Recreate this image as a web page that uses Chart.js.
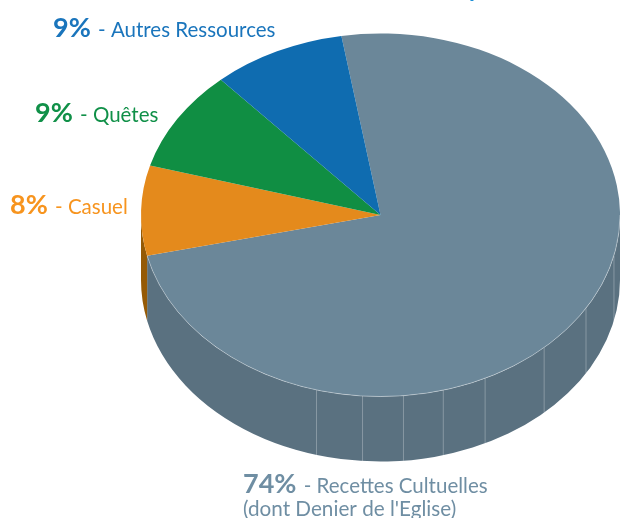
<!DOCTYPE html>
<html>
  <head>
    <meta charset="utf-8" />
    <script src="https://cdn.jsdelivr.net/npm/chart.js@4"></script>
    <style>
      html, body { margin: 0; background: #fff; overflow: hidden; }
      canvas { display: block; }
    </style>
  </head>

  <body>
    <canvas id="canvas" width="620" height="518"></canvas>
    <script>
      const categories = ['Recettes Cultuelles', 'Casuel', 'Quêtes', 'Autres Ressources'];
      const values = [74, 8, 9, 9];
      const sliceColors = ['#6b8799', '#e48a1c', '#108e43', '#0f6cb0'];
      const sideColors = ['#5a7180', '#955a06', '#0b6a32', '#0b5084'];
      const textColors = ['#6f8ea3', '#f7941e', '#109048', '#1a75bc'];
      // degrees from the front of the pie, where the side panels join
      const facetAngles = [-15.5, -4.3, 5.5, 15.2, 25.9, 43.1, 59.1, 77.1];

      const tilt = 0.758;
      const centerY = 215;
      const depth = 65;
      const labelSpots = [
        { x: 243, y: 493 },
        { x: 10, y: 214 },
        { x: 35, y: 122 },
        { x: 53, y: 37 },
      ];

      const pie3d = {
        id: 'pie3d',
        beforeDatasetsDraw(chart) {
          const ctx = chart.ctx;
          const arcs = chart.getDatasetMeta(0).data;
          // side wall: only the front half of each slice shows
          arcs.forEach((arc, i) => {
            const r = arc.outerRadius;
            const from = Math.max(arc.startAngle, 0);
            const to = Math.min(arc.endAngle, Math.PI);
            if (to <= from) return;
            ctx.beginPath();
            ctx.ellipse(arc.x, centerY, r, r * tilt, 0, from, to);
            ctx.ellipse(arc.x, centerY + depth, r, r * tilt, 0, to, from, true);
            ctx.closePath();
            ctx.fillStyle = sideColors[i];
            ctx.fill();
          });
          const first = arcs[0];
          ctx.save();
          ctx.strokeStyle = 'rgba(255,255,255,0.28)';
          ctx.lineWidth = 1;
          facetAngles.forEach((deg) => {
            const a = (deg * Math.PI) / 180;
            const x = first.x + first.outerRadius * Math.sin(a);
            const y = centerY + first.outerRadius * tilt * Math.cos(a);
            ctx.beginPath();
            ctx.moveTo(x, y);
            ctx.lineTo(x, y + depth);
            ctx.stroke();
          });
          ctx.restore();
          // squash the round pie the library draws into the tilted top
          ctx.save();
          ctx.translate(0, centerY);
          ctx.scale(1, tilt);
          ctx.translate(0, -first.y);
        },
        afterDatasetsDraw(chart) {
          const ctx = chart.ctx;
          ctx.restore();
          // thin light rim on the front edge of the big slice
          const arc = chart.getDatasetMeta(0).data[0];
          const r = arc.outerRadius;
          ctx.save();
          ctx.beginPath();
          ctx.ellipse(arc.x, centerY, r, r * tilt, 0, 0, arc.endAngle);
          ctx.strokeStyle = 'rgba(255,255,255,0.35)';
          ctx.lineWidth = 1;
          ctx.stroke();
          ctx.restore();
        },
        afterDraw(chart) {
          const ctx = chart.ctx;
          ctx.save();
          ctx.textBaseline = 'alphabetic';
          categories.forEach((name, i) => {
            const spot = labelSpots[i];
            const pct = values[i] + '%';
            ctx.fillStyle = textColors[i];
            ctx.font = 'bold 27px Lato';
            ctx.fillText(pct, spot.x, spot.y);
            const w = ctx.measureText(pct).width;
            ctx.font = '20.5px Lato';
            ctx.fillText(' - ' + name, spot.x + w + 2, spot.y);
          });
          ctx.fillStyle = textColors[0];
          ctx.font = '20.7px Lato';
          ctx.fillText("(dont Denier de l'Eglise)", 243, 516);
          // the title above is cut off by the crop, only a descender shows
          ctx.fillStyle = '#1d8fd6';
          ctx.font = 'bold 24px Lato';
          ctx.fillText('p', 469, -3);
          ctx.restore();
        },
      };

      new Chart(document.getElementById('canvas').getContext('2d'), {
        type: 'pie',
        data: {
          labels: categories,
          datasets: [
            {
              data: values,
              backgroundColor: sliceColors,
              borderWidth: 0,
              clip: false,
            },
          ],
        },
        options: {
          responsive: false,
          animation: false,
          rotation: -9.4,
          layout: { padding: { left: 141, right: -1, top: 0, bottom: 38 } },
          plugins: {
            legend: { display: false },
            tooltip: { enabled: false },
          },
        },
        plugins: [pie3d],
      });
    </script>
  </body>
</html>
